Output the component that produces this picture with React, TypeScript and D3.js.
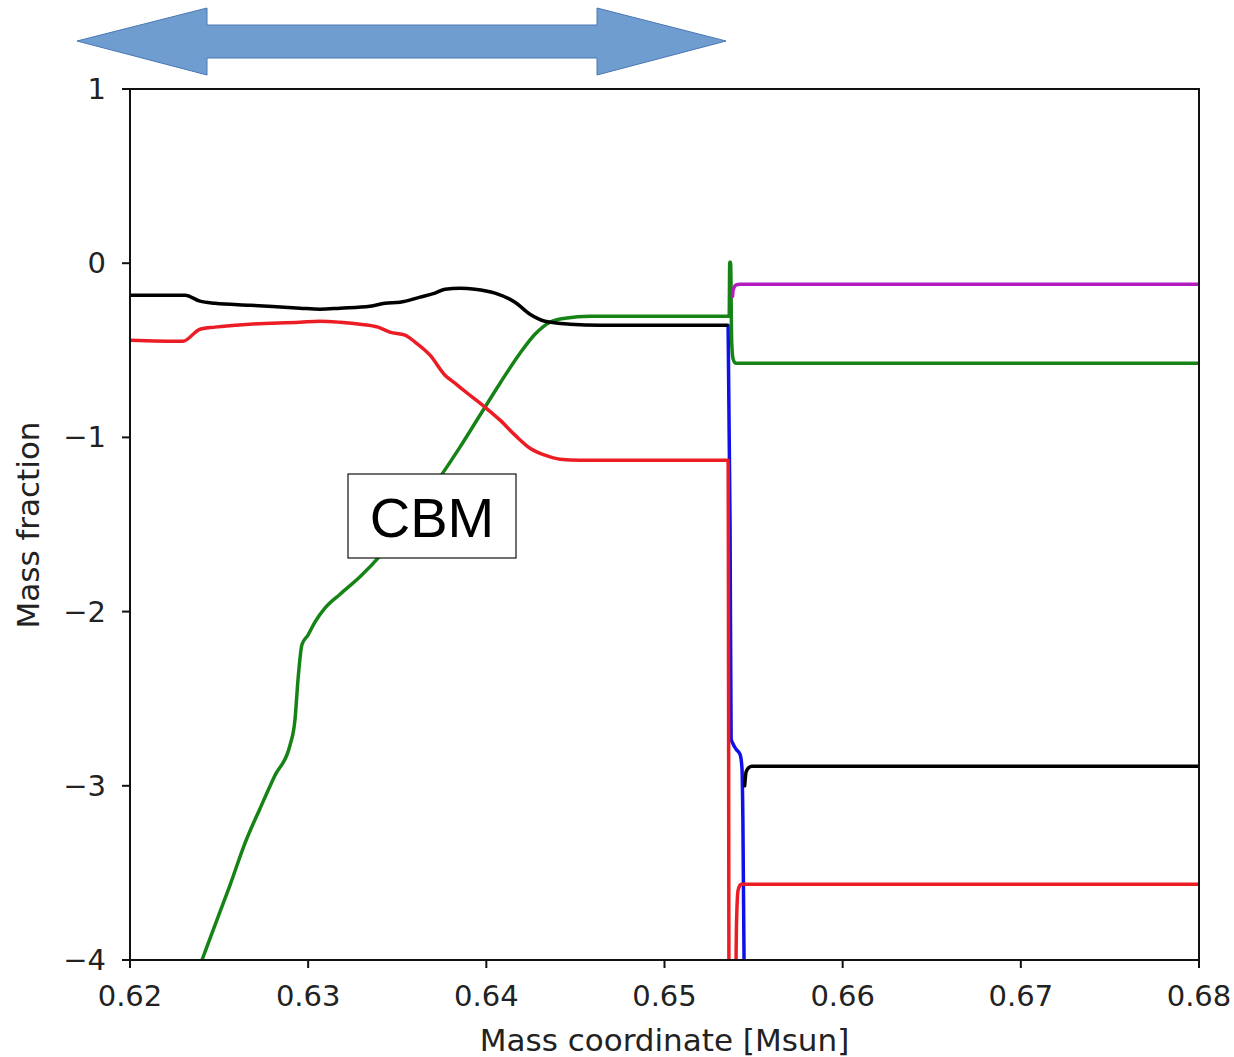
import React from "react";
import * as d3 from "d3";

// Mass coordinate ticks and abundance axis ticks
const xTicks = [0.62, 0.63, 0.64, 0.65, 0.66, 0.67, 0.68];
const yTicks = [1, 0, -1, -2, -3, -4];

// log mass fraction profiles: [mass coordinate (Msun), log X]
const blackPre: [number, number][] = [
  [0.62, -0.184], [0.62309, -0.184], [0.62393, -0.218], [0.62477, -0.23],
  [0.62674, -0.241], [0.62954, -0.258], [0.63066, -0.264], [0.63179, -0.258],
  [0.63347, -0.247], [0.63431, -0.23], [0.63515, -0.224], [0.63628, -0.195],
  [0.63712, -0.172], [0.63768, -0.149], [0.63852, -0.144], [0.63936, -0.149],
  [0.64049, -0.172], [0.64161, -0.224], [0.64245, -0.293], [0.64329, -0.333],
  [0.6447, -0.35], [0.64638, -0.356], [0.65351, -0.356],
];
const blackPost: [number, number][] = [
  [0.6545, -3.0], [0.65458, -2.92], [0.65474, -2.895], [0.6549, -2.888], [0.68, -2.888],
];
const redSeries: [number, number][] = [
  [0.62, -0.442], [0.62297, -0.448], [0.62393, -0.379], [0.62477, -0.367],
  [0.62674, -0.35], [0.62954, -0.339], [0.63066, -0.333], [0.63179, -0.339],
  [0.63291, -0.35], [0.63392, -0.367], [0.63459, -0.396], [0.63544, -0.413],
  [0.636, -0.453], [0.63684, -0.528], [0.63768, -0.643], [0.63824, -0.689],
  [0.63908, -0.758], [0.63993, -0.827], [0.64077, -0.901], [0.64161, -0.987],
  [0.64245, -1.062], [0.64329, -1.102], [0.64413, -1.125], [0.64526, -1.131],
  [0.65357, -1.131], [0.65363, -4.5], [0.65396, -4.5], [0.65404, -3.8],
  [0.65413, -3.6], [0.6543, -3.565], [0.68, -3.565],
];
const greenSeries: [number, number][] = [
  [0.62404, -4.0], [0.62477, -3.8], [0.62561, -3.571], [0.62645, -3.33],
  [0.6273, -3.13], [0.62814, -2.94], [0.62898, -2.767], [0.62926, -2.62],
  [0.62943, -2.39], [0.62965, -2.19], [0.62999, -2.135], [0.63038, -2.06],
  [0.63094, -1.98], [0.63179, -1.9], [0.63291, -1.8], [0.63403, -1.68],
  [0.63515, -1.533], [0.63628, -1.389], [0.6374, -1.228], [0.63852, -1.056],
  [0.63964, -0.873], [0.64077, -0.689], [0.64189, -0.517], [0.64273, -0.408],
  [0.64357, -0.339], [0.64442, -0.316], [0.64582, -0.304], [0.65351, -0.304],
  [0.65363, -0.304], [0.65366, 0.005], [0.65371, 0.005], [0.65377, -0.45],
  [0.65385, -0.55], [0.65399, -0.574], [0.68, -0.574],
];
const blueSeries: [number, number][] = [
  [0.65357, -0.356], [0.65368, -1.5], [0.65374, -2.73], [0.65385, -2.76],
  [0.65402, -2.79], [0.65424, -2.82], [0.65435, -2.9], [0.6544, -3.2],
  [0.65449, -4.3],
];
const magentaSeries: [number, number][] = [
  [0.65382, -0.19], [0.65385, -0.155], [0.65402, -0.125], [0.65424, -0.121], [0.68, -0.121],
];

const W = 1234;
const H = 1057;
const plot = { left: 130, right: 1199, top: 89, bottom: 960 };

const x = d3.scaleLinear().domain([0.62, 0.68]).range([plot.left, plot.right]);
const y = d3.scaleLinear().domain([-4, 1]).range([plot.bottom, plot.top]);
const line = d3
  .line<[number, number]>()
  .x((d) => x(d[0]))
  .y((d) => y(d[1]))
  .curve(d3.curveMonotoneX);

const curves: { data: [number, number][]; color: string }[] = [
  { data: blueSeries, color: "#1010e8" },
  { data: greenSeries, color: "#168316" },
  { data: blackPre, color: "#000000" },
  { data: blackPost, color: "#000000" },
  { data: redSeries, color: "#ec1c24" },
  { data: magentaSeries, color: "#b41cc0" },
];

const fmtX = d3.format(".2f");
const fmtY = (v: number) => (v < 0 ? "\u2212" + Math.abs(v) : String(v));

export default function App() {
  const font = "'DejaVu Sans', sans-serif";
  return (
    <svg
      width={W}
      height={H}
      style={{ position: "absolute", left: 0, top: 0, background: "#fff" }}
    >
      <defs>
        <clipPath id="plot-clip">
          <rect
            x={plot.left}
            y={plot.top}
            width={plot.right - plot.left}
            height={plot.bottom - plot.top}
          />
        </clipPath>
      </defs>

      {/* double-headed arrow spanning the convective boundary region */}
      <path
        d="M77,41 L207,8 L207,25 L597,25 L597,8 L726,41 L597,75 L597,58 L207,58 L207,75 Z"
        fill="#6f9dd0"
        stroke="#4a78b4"
        strokeWidth={1}
      />

      <g clipPath="url(#plot-clip)">
        {curves.map((c, i) => (
          <path
            key={i}
            d={line(c.data) ?? ""}
            fill="none"
            stroke={c.color}
            strokeWidth={3.5}
            strokeLinejoin="round"
            strokeLinecap="round"
          />
        ))}
      </g>

      {/* frame */}
      <rect
        x={plot.left}
        y={plot.top}
        width={plot.right - plot.left}
        height={plot.bottom - plot.top}
        fill="none"
        stroke="#111"
        strokeWidth={2}
      />

      {/* x axis */}
      {xTicks.map((t) => (
        <g key={"x" + t}>
          <line x1={x(t)} x2={x(t)} y1={plot.bottom} y2={plot.bottom + 8} stroke="#111" strokeWidth={2} />
          <text
            x={x(t)}
            y={plot.bottom + 36}
            textAnchor="middle"
            dominantBaseline="central"
            fontFamily={font}
            fontSize={29}
            fill="#222"
          >
            {fmtX(t)}
          </text>
        </g>
      ))}

      {/* y axis */}
      {yTicks.map((t) => (
        <g key={"y" + t}>
          <line x1={plot.left - 8} x2={plot.left} y1={y(t)} y2={y(t)} stroke="#111" strokeWidth={2} />
          <text
            x={plot.left - 24}
            y={y(t)}
            textAnchor="end"
            dominantBaseline="central"
            fontFamily={font}
            fontSize={29}
            fill="#222"
          >
            {fmtY(t)}
          </text>
        </g>
      ))}

      <text
        x={(plot.left + plot.right) / 2}
        y={1040}
        textAnchor="middle"
        dominantBaseline="central"
        fontFamily={font}
        fontSize={31}
        fill="#222"
      >
        Mass coordinate [Msun]
      </text>
      <text
        transform="translate(28,525) rotate(-90)"
        textAnchor="middle"
        dominantBaseline="central"
        fontFamily={font}
        fontSize={31}
        fill="#222"
      >
        Mass fraction
      </text>

      {/* CBM label box */}
      <rect x={348} y={474} width={168} height={84} fill="#fff" stroke="#111" strokeWidth={1.2} />
      <text
        x={432}
        y={517}
        textAnchor="middle"
        dominantBaseline="central"
        fontFamily="'Liberation Sans', Arial, sans-serif"
        fontSize={56}
        fill="#000"
      >
        CBM
      </text>
    </svg>
  );
}
